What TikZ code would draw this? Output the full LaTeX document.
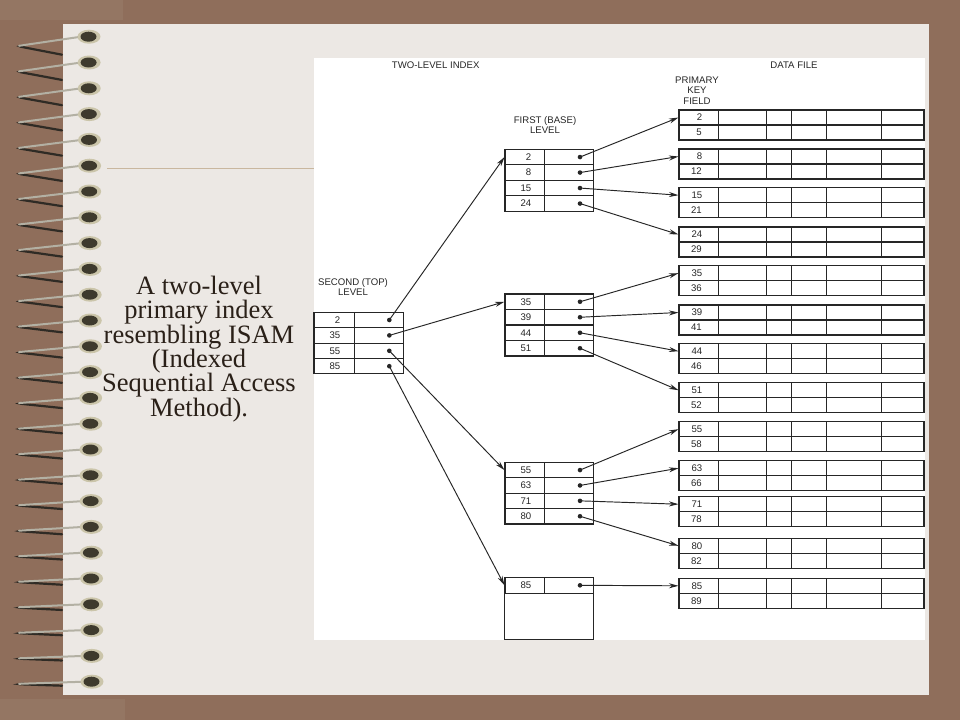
\documentclass[tikz,border=0pt]{standalone}
\usepackage{fontspec}
\setmainfont{Liberation Serif}
\setsansfont{Liberation Sans}
\usepackage{xcolor}
\usepackage{tikz}
\usetikzlibrary{arrows.meta}
\definecolor{slidebrown}{HTML}{8F6E5B}
\definecolor{brownpatch}{HTML}{947663}
\definecolor{page}{HTML}{ECE8E4}
\definecolor{tanline}{HTML}{C9B79F}
\definecolor{captext}{HTML}{2A2018}
\definecolor{gridgray}{HTML}{262626}
\definecolor{darkwire}{HTML}{2F2B25}
\definecolor{lightwire}{HTML}{B3B0A3}
\definecolor{holerim}{HTML}{CBC5AA}
\definecolor{holedark}{HTML}{3E3A2D}

\begin{document}
\begin{tikzpicture}[x=1pt, y=-1pt,
	grid/.style={draw=gridgray, line width=1.05pt},
	cell/.style={draw=gridgray, line width=1.05pt, inner sep=0pt, minimum height=15.5pt},
	num/.style={font=\sffamily\fontsize{9.6}{10}\selectfont, text=gridgray, anchor=east, inner sep=0pt},
	lbl/.style={font=\sffamily\fontsize{9.6}{10.8}\selectfont, text=gridgray, align=center, inner sep=0pt},
	caption/.style={font=\fontsize{26.5}{24.4}\selectfont, text=captext, align=center, inner sep=0pt},
	ptr/.style={draw=gridgray, line width=0.95pt, -{Stealth[length=9.5pt, width=5pt]}}]
			\useasboundingbox (0,0) rectangle (960,720);
			\fill [slidebrown] (0,0) rectangle (960,720);
			\fill [brownpatch] (0,0) rectangle (123,20);
			\fill [brownpatch] (0,699) rectangle (125,720);
			\fill [page] (63,24) rectangle (929,695);
			\draw [tanline, line width=0.8pt] (107,168.3) -- (314,168.3);
			\fill [white] (314,58) rectangle (925,640);
			\foreach \i in {0,...,25} {
				\pgfmathsetmacro\ry{36.7+25.8*\i}
				\pgfmathsetmacro\rd{9.5-7*\i/25}
				\pgfmathsetmacro\hx{89+3*\i/25}
				\draw [darkwire, line width=2.2pt, line cap=round, rounded corners=3pt] (62,{\ry+2*\rd-1}) -- (18,{\ry+\rd}) -- (24,{\ry+\rd-0.6});
				\draw [lightwire, line width=2pt, line cap=round] (19,{\ry+\rd-0.4}) -- ({\hx-8},\ry);
				\fill [holerim] (\hx,\ry) ellipse [x radius=11.5, y radius=7];
				\fill [holedark] ({\hx-0.5},\ry) ellipse [x radius=8, y radius=5];
			}
			\node [caption] (cap) at (199,349) {A two-level\\primary index\\resembling ISAM\\(Indexed\\Sequential Access\\Method).};
			\node [lbl] (tli) at (435.7,65) {TWO-LEVEL INDEX};
			\node [lbl] (dfl) at (794,65) {DATA FILE};
			\node [lbl] (pkf) at (697,90.5) {PRIMARY\\KEY\\FIELD};
			\node [lbl] (fbl) at (545,125) {FIRST (BASE)\\LEVEL};
			\node [lbl] (stl) at (353,287) {SECOND (TOP)\\LEVEL};
			\foreach \ka/\kb/\top [count=\i] in {2/5/110, 8/12/149, 15/21/187.7, 24/29/227, 35/36/265.7, 39/41/305, 44/46/343.7, 51/52/382.7, 55/58/421.7, 63/66/460.7, 71/78/496.7, 80/82/538.3, 85/89/578.3} {
				\draw [grid] (679,\top) rectangle (924,{\top+30});
				\draw [grid] (679,{\top+15}) -- (924,{\top+15});
				\foreach \x in {718.7,766.7,791.7,826.7,881.3}
					\draw [grid] (\x,\top) -- (\x,{\top+30});
				\node [cell, minimum width=39.7pt, minimum height=15pt] (d\i) at (698.85,{\top+7.5}) {};
				\node [num] (dka\i) at ([xshift=-16.7pt]d\i.east) {\ka};
				\node [num] (dkb\i) at (702,{\top+22.5}) {\kb};
			}
			\foreach \k/\yc [count=\i] in {2/157.05, 8/172.55, 15/188.05, 24/203.55, 35/301.75, 39/317.25, 44/332.75, 51/348.25, 55/470.05, 63/485.45, 71/500.85, 80/516.25, 85/585.3} {
				\node [cell, minimum width=39.7pt] (f\i) at (524.85,\yc) {};
				\node [cell, minimum width=49pt] (fp\i) at (569.2,\yc) {};
				\node [num] (fk\i) at ([xshift=-13.7pt]f\i.east) {\k};
				\coordinate (fd\i) at (580,\yc);
				\fill [gridgray] (fd\i) circle [radius=2.3];
				\draw [ptr] (fd\i) -- (d\i.west);
			}
			\draw [grid] (f13.south west) rectangle (593.7,639.3);
			\foreach \k/\yc/\t [count=\i] in {2/320/1, 35/335.4/5, 55/350.8/9, 85/366.2/13} {
				\node [cell, minimum width=40.3pt, minimum height=15.4pt] (s\i) at (334.15,\yc) {};
				\node [cell, minimum width=49.4pt, minimum height=15.4pt] (sp\i) at (379,\yc) {};
				\node [num] (sk\i) at ([xshift=-14.3pt]s\i.east) {\k};
				\coordinate (sd\i) at (389.3,\yc);
				\fill [gridgray] (sd\i) circle [radius=2.3];
				\draw [ptr] (sd\i) -- (f\t.west);
			}
		\end{tikzpicture}
\end{document}
